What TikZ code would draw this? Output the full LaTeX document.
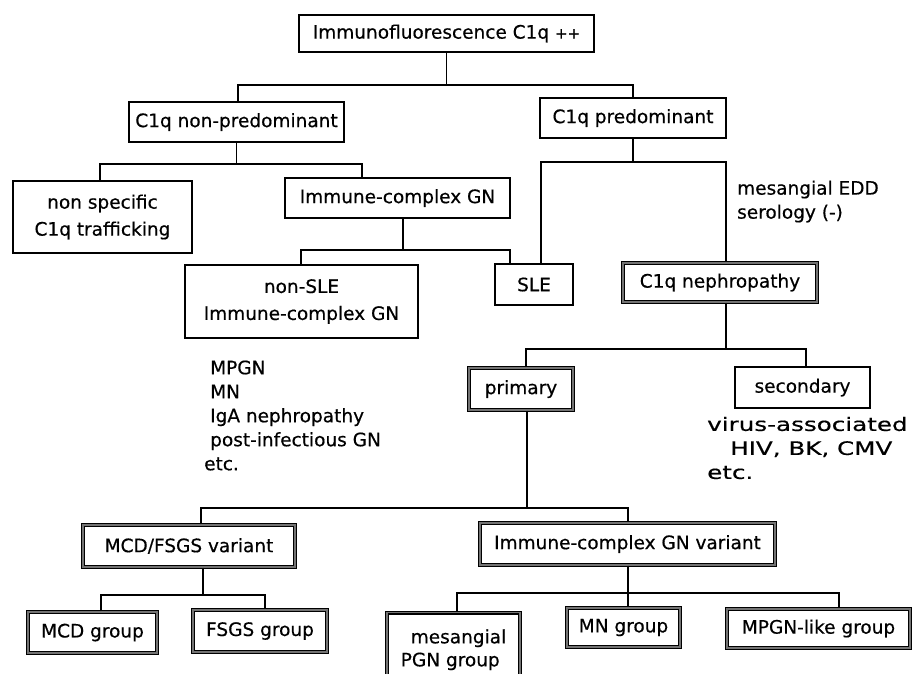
\documentclass[tikz,border=0pt]{standalone}
\usepackage{fontspec}
\setmainfont[FakeBold=0.5]{DejaVu Sans}
\newfontfamily\widefont[FakeStretch=1.33,FakeBold=0.5]{DejaVu Sans}
\begin{document}
\begin{tikzpicture}[x=1pt,y=-1pt,
  font=\fontsize{18.5}{24}\selectfont,
  tbox/.style={draw=black, line width=1.2pt, inner sep=0pt, align=center,
    font=\fontsize{18.5}{27}\selectfont},
  kbox/.style={draw=black, line width=1.4pt, double=black!55, double distance=1.1pt,
    inner sep=0pt, align=center, font=\fontsize{18.5}{26}\selectfont},
  conn/.style={draw=black, line width=1.2pt},
  note/.style={anchor=west, align=left, inner sep=0pt}]
\useasboundingbox (0,0) rectangle (912,673);
\clip (0,0) rectangle (912,673);
\fill[white] (0,0) rectangle (912,673);

% boxes
\node[tbox, minimum width=295pt, minimum height=37pt] (top) at (446.5,33.5) {Immunofluorescence C1q {\fontsize{15}{15}\selectfont ++}};
\node[tbox, minimum width=215pt, minimum height=40pt] (nonpred) at (236.5,122) {C1q non-predominant};
\node[tbox, minimum width=186pt, minimum height=40pt] (pred) at (633,118) {C1q predominant};
\node[tbox, minimum width=179pt, minimum height=72pt] (nonspec) at (102.5,217) {non specific\\C1q trafficking};
\node[tbox, minimum width=225pt, minimum height=40pt] (icgn) at (397.5,198) {Immune-complex GN};
\node[tbox, minimum width=233pt, minimum height=73pt] (nonsle) at (301.5,301.5) {non-SLE\\Immune-complex GN};
\node[tbox, minimum width=78pt, minimum height=41pt] (sle) at (534,284.5) {SLE};
\node[kbox, minimum width=194pt, minimum height=39pt] (c1qn) at (720,282.5) {C1q nephropathy};
\node[kbox, minimum width=104pt, minimum height=42pt] (primary) at (521,389) {primary};
\node[tbox, minimum width=135pt, minimum height=41pt] (secondary) at (802.5,387.5) {secondary};
\node[kbox, minimum width=212pt, minimum height=42pt] (mcdv) at (189,546) {MCD/FSGS variant};
\node[kbox, minimum width=295pt, minimum height=42pt] (icgnv) at (627.5,544) {Immune-complex GN variant};
\node[kbox, minimum width=129pt, minimum height=41pt] (mcdg) at (92.5,632.5) {MCD group};
\node[kbox, minimum width=134pt, minimum height=42pt] (fsgsg) at (260,631) {FSGS group};
\node[kbox, minimum width=133pt, minimum height=74pt, anchor=north, align=left,
  font=\fontsize{18.5}{23}\selectfont] (mes) at (453.5,612) {\hspace*{10pt}mesangial\\PGN group};
\node[kbox, minimum width=113pt, minimum height=39pt] (mng) at (623.5,627.5) {MN group};
\node[kbox, minimum width=183pt, minimum height=39pt] (mpgn) at (818.5,628.5) {MPGN-like group};

% annotations
\node[note] (ann1) at (737,201.5) {mesangial EDD\\serology (-)};
\node[note] (ann2) at (210,415.5) {MPGN\\MN\\IgA nephropathy\\post-infectious GN\\\hspace*{-6pt}etc.};
\node[note, font=\widefont\fontsize{18.5}{24}\selectfont] (ann3) at (707,448) {virus-associated\\\hspace*{23pt}HIV, BK, CMV\\etc.};

% junction coordinates
\coordinate (b1L) at (238,85);  \coordinate (b1R) at (633,85);
\coordinate (b2L) at (100,164); \coordinate (b2R) at (362,164);
\coordinate (b3L) at (301,250); \coordinate (b3R) at (510,250); \coordinate (b3P) at (403,250);
\coordinate (b4L) at (541,162); \coordinate (b4R) at (726,162);
\coordinate (b5L) at (526,349); \coordinate (b5R) at (806,349); \coordinate (b5P) at (726,349);
\coordinate (b6L) at (201,508); \coordinate (b6R) at (628,508); \coordinate (b6P) at (527,508);
\coordinate (b7L) at (101,595); \coordinate (b7R) at (265,595); \coordinate (b7P) at (203,595);
\coordinate (b8L) at (457,593); \coordinate (b8R) at (839,593); \coordinate (b8M) at (628,593);

% connectors
\draw[conn] (top.south) -- (top.south |- b1L);
\draw[conn] (nonpred.north -| b1L) -- (b1L) -- (b1R) -- (pred.north -| b1R);

\draw[conn] (nonpred.south) -- (nonpred.south |- b2L);
\draw[conn] (nonspec.north -| b2L) -- (b2L) -- (b2R) -- (icgn.north -| b2R);

\draw[conn] (icgn.south -| b3P) -- (b3P);
\draw[conn] (nonsle.north -| b3L) -- (b3L) -- (b3R) -- (sle.north -| b3R);

\draw[conn] (pred.south) -- (pred.south |- b4L);
\draw[conn] (sle.north -| b4L) -- (b4L) -- (b4R) -- (c1qn.north -| b4R);

\draw[conn] (c1qn.south -| b5P) -- (b5P);
\draw[conn] (primary.north -| b5L) -- (b5L) -- (b5R) -- (secondary.north -| b5R);

\draw[conn] (primary.south -| b6P) -- (b6P);
\draw[conn] (mcdv.north -| b6L) -- (b6L) -- (b6R) -- (icgnv.north -| b6R);

\draw[conn] (mcdv.south -| b7P) -- (b7P);
\draw[conn] (mcdg.north -| b7L) -- (b7L) -- (b7R) -- (fsgsg.north -| b7R);

\draw[conn] (icgnv.south -| b8M) -- (mng.north -| b8M);
\draw[conn] (mes.north -| b8L) -- (b8L) -- (b8R) -- (mpgn.north -| b8R);
\end{tikzpicture}
\end{document}
